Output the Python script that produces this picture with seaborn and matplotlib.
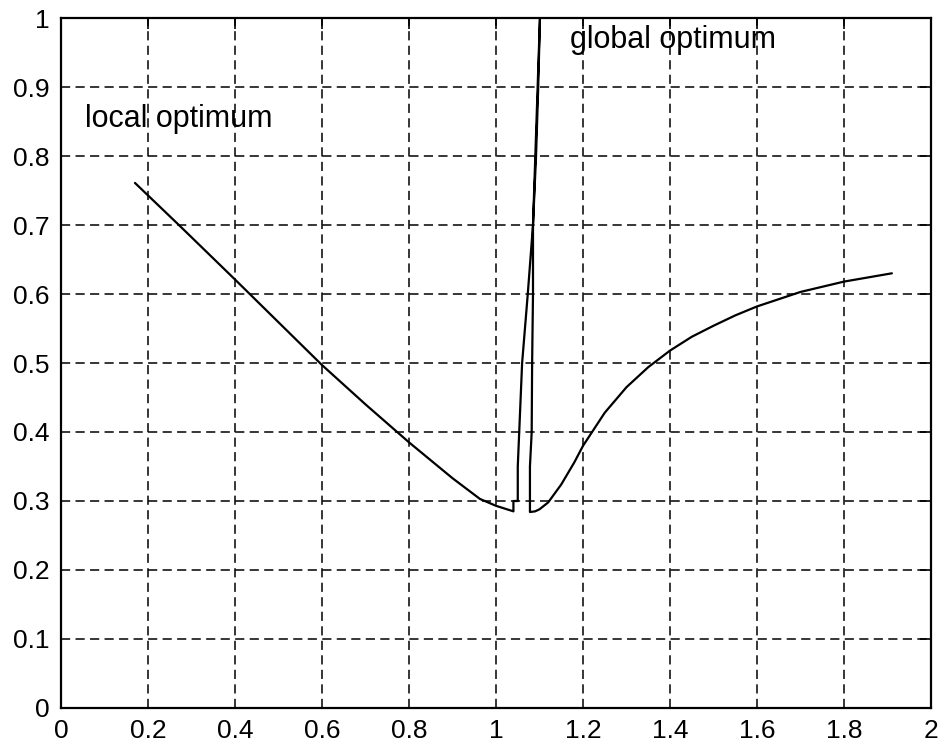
import matplotlib
matplotlib.use("Agg")
import matplotlib.pyplot as plt
import seaborn as sns
import pandas as pd

# Path of the objective curve, traced in order (x steps back near the peak)
curve_x = [0.17, 0.271, 0.40, 0.50, 0.60, 0.70, 0.80, 0.90, 0.963, 1.00, 1.04,
           1.04, 1.05, 1.05, 1.06, 1.073, 1.085, 1.092, 1.097, 1.101,
           1.085, 1.085, 1.083, 1.082, 1.078, 1.078,
           1.09, 1.10, 1.12, 1.15, 1.18, 1.20, 1.25, 1.30, 1.35, 1.40, 1.45,
           1.50, 1.55, 1.60, 1.70, 1.80, 1.91]
curve_y = [0.761, 0.700, 0.621, 0.559, 0.497, 0.440, 0.385, 0.333, 0.303, 0.293, 0.285,
           0.300, 0.300, 0.350, 0.500, 0.600, 0.700, 0.800, 0.900, 1.000,
           0.700, 0.600, 0.500, 0.400, 0.350, 0.284,
           0.285, 0.288, 0.298, 0.324, 0.356, 0.380, 0.428, 0.465, 0.494, 0.518, 0.538,
           0.554, 0.569, 0.582, 0.603, 0.618, 0.630]

x_ticks = [0, 0.2, 0.4, 0.6, 0.8, 1, 1.2, 1.4, 1.6, 1.8, 2]
x_tick_labels = ["0", "0.2", "0.4", "0.6", "0.8", "1", "1.2", "1.4", "1.6", "1.8", "2"]
y_ticks = [0, 0.1, 0.2, 0.3, 0.4, 0.5, 0.6, 0.7, 0.8, 0.9, 1]
y_tick_labels = ["0", "0.1", "0.2", "0.3", "0.4", "0.5", "0.6", "0.7", "0.8", "0.9", "1"]

annotations = ["local optimum", "global optimum"]
annotation_x = [0.055, 1.170]
annotation_y = [0.842, 0.957]

sns.set_style("white")
plt.rcParams["font.family"] = ["Liberation Sans", "DejaVu Sans"]

df = pd.DataFrame({"x": curve_x, "y": curve_y})

fig = plt.figure(figsize=(9.43, 7.45), dpi=100)
ax = fig.add_axes([0.0647, 0.0497, 0.9226, 0.9261])

sns.lineplot(data=df, x="x", y="y", sort=False, estimator=None,
             color="black", linewidth=1.6, ax=ax)

ax.set_xlim(0, 2)
ax.set_ylim(0, 1)
ax.set_xticks(x_ticks)
ax.set_xticklabels(x_tick_labels)
ax.set_yticks(y_ticks)
ax.set_yticklabels(y_tick_labels)
ax.set_xlabel("")
ax.set_ylabel("")

ax.grid(True, color="black", linestyle=(0, (6, 3.5)), linewidth=1.1)
ax.set_axisbelow(True)
ax.tick_params(axis="both", direction="in", length=8, width=1.2,
               labelsize=19, colors="black", top=True, right=True,
               labeltop=False, labelright=False)
ax.tick_params(axis="x", pad=8)
ax.tick_params(axis="y", pad=8)

for side in ["left", "right", "top", "bottom"]:
    ax.spines[side].set_visible(True)
    ax.spines[side].set_color("black")
    ax.spines[side].set_linewidth(1.6)

for label, tx, ty in zip(annotations, annotation_x, annotation_y):
    ax.text(tx, ty, label, fontsize=22, color="black", ha="left", va="baseline")

fig.savefig("out.png", dpi=100, facecolor="white")
